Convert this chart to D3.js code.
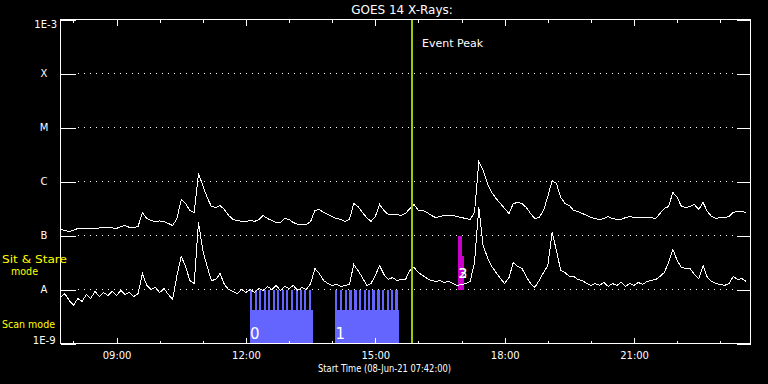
<!DOCTYPE html>
<html>
<head>
<meta charset="utf-8">
<script src="https://cdn.jsdelivr.net/npm/d3@7"></script>
<style>
  body { margin: 0; background: #000; }
  svg { display: block; font-family: "DejaVu Sans", sans-serif; }
</style>
</head>
<body>
<div class="chart"></div>
<script>
// GOES 14 X-ray flux, 08-Jun-21, one sample every 6 minutes from 07:42
const day = "2021-06-08";
const startTime = "07:42";
const endTime = "23:42";
const stepMinutes = 6;

// 1-8 A channel, units of 1e-9 W/m^2
const fluxLong = [
  129,124,119,124,135,135,132,135,135,138,
  141,141,138,135,147,153,141,141,147,267,
  206,190,182,186,182,167,153,206,464,391,
  290,267,1410,843,506,344,330,359,303,235,
  198,190,182,182,190,182,198,235,206,190,
  174,174,206,198,174,160,160,160,182,290,
  303,267,245,225,206,198,182,198,391,344,
  267,215,182,225,375,290,245,245,245,235,
  256,316,375,290,290,267,235,215,225,235,
  235,235,225,215,206,198,267,2350,1600,918,
  626,484,391,316,256,391,408,391,330,256,
  206,215,290,528,1044,918,506,391,359,290,
  278,256,235,215,206,198,206,225,206,198,
  198,215,225,215,215,215,215,215,206,256,
  316,344,626,506,344,330,344,375,303,408,
  278,225,206,215,215,225,267,278,278,267
];

// 0.5-4 A channel, units of 1e-9 W/m^2
const fluxShort = [
  7.1,8.4,6.3,5.1,6.8,6.0,8.1,6.8,9.2,7.4,
  8.8,7.7,9.2,7.7,9.6,8.1,8.8,7.4,8.4,19.8,
  11.9,10.0,10.9,8.8,10.4,8.1,6.5,18.2,40.8,26.7,
  14.7,12.9,174,52.8,26.7,14.7,15.3,19.8,12.4,10.0,
  9.2,8.4,10.0,8.8,10.0,8.8,10.4,9.6,11.4,10.0,
  11.9,9.6,11.4,10.4,11.9,9.6,10.9,10.0,12.9,24.5,
  19.8,14.7,12.9,11.9,12.4,11.4,11.9,12.4,29.0,22.5,
  16.7,11.9,12.9,18.2,27.8,19.0,15.3,16.7,14.7,15.3,
  15.3,22.5,25.6,20.6,18.2,16.0,14.7,14.1,14.7,13.5,
  14.1,12.9,11.9,12.4,12.9,14.1,31.6,330,65.3,39.1,
  26.7,20.6,16.0,12.9,16.7,31.6,26.7,24.5,17.4,12.9,
  10.9,14.7,20.6,27.8,114,52.8,22.5,20.6,17.4,17.4,
  15.3,14.7,12.9,11.9,12.9,11.9,13.5,11.4,12.9,11.9,
  13.5,11.4,12.9,11.9,13.5,12.4,14.1,14.7,15.3,17.4,
  20.6,31.6,55.1,34.4,25.6,24.5,24.5,19.0,16.0,27.8,
  16.7,14.1,12.9,12.4,11.9,12.9,17.4,15.3,16.0,14.1
];

const levelTicks = [1e-9, 1e-8, 1e-7, 1e-6, 1e-5, 1e-4, 1e-3];
const levelLabels = ["1E-9", "A", "B", "C", "M", "X", "1E-3"];

const eventPeak = "15:51";

// scan mode blocks and their sub-scans
const scanGroups = [["12:05", "13:33"], ["14:04", "15:33"]];
const scanLabels = ["0", "1"];
const scanTeeth = [
  ["12:05","12:12","12:18","12:25","12:31","12:37","12:43","12:50","12:56","13:02","13:09","13:15","13:21","13:28"],
  ["14:04","14:11","14:18","14:24","14:31","14:37","14:44","14:50","14:56","15:03","15:09","15:16","15:22","15:28"]
];
const toothMinutes = 3;

// sit & stare blocks
const stareBars = [["16:55", "17:00"], ["16:55", "17:04"]];
const stareTops = [1e-7, 4.1e-8];
const stareLabels = ["2", "3"];

const W = 768, H = 384;
const parse = d3.utcParse("%Y-%m-%d %H:%M");
const t = s => parse(day + " " + s);

const t0 = t(startTime);
const times = fluxLong.map((d, i) => d3.utcMinute.offset(t0, i * stepMinutes));

const x = d3.scaleUtc().domain([t0, t(endTime)]).range([60.5, 750.5]);
const y = d3.scaleLog().domain([1e-9, 1e-3]).range([343.5, 19.5]);

const svg = d3.select(".chart").append("svg")
  .attr("width", W)
  .attr("height", H)
  .attr("shape-rendering", "crispEdges");

svg.append("rect").attr("width", W).attr("height", H).attr("fill", "#000");

svg.append("defs").append("clipPath").attr("id", "plot")
  .append("rect")
  .attr("x", x.range()[0]).attr("y", y.range()[1])
  .attr("width", x.range()[1] - x.range()[0])
  .attr("height", y.range()[0] - y.range()[1]);

// dotted level lines
svg.append("g").selectAll("line")
  .data(levelTicks.slice(1, -1))
  .join("line")
  .attr("x1", 78).attr("x2", 736)
  .attr("y1", d => y(d)).attr("y2", d => y(d))
  .attr("stroke", "#fff")
  .attr("stroke-dasharray", "1,5");

// scan mode bars
const scanTop = 1e-8, scanBase = 4.1e-9;
scanGroups.forEach((g, gi) => {
  svg.append("rect")
    .attr("x", x(t(g[0])))
    .attr("width", x(t(g[1])) - x(t(g[0])))
    .attr("y", y(scanBase))
    .attr("height", y(1e-9) - y(scanBase))
    .attr("fill", "#6464ff");
  svg.append("g").selectAll("rect")
    .data(scanTeeth[gi])
    .join("rect")
    .attr("x", d => x(t(d)))
    .attr("width", d => x(d3.utcMinute.offset(t(d), toothMinutes)) - x(t(d)))
    .attr("y", y(scanTop))
    .attr("height", y(scanBase) - y(scanTop))
    .attr("fill", "#6464ff");
});

// sit & stare bars
svg.append("g").selectAll("rect")
  .data(stareBars)
  .join("rect")
  .attr("x", d => x(t(d[0])))
  .attr("width", d => x(t(d[1])) - x(t(d[0])))
  .attr("y", (d, i) => y(stareTops[i]))
  .attr("height", (d, i) => y(1e-8) - y(stareTops[i]))
  .attr("fill", "#cc00cc");

// flux curves
const line = d3.line()
  .x((d, i) => x(times[i]))
  .y(d => y(d * 1e-9));

[fluxLong, fluxShort].forEach(series => {
  svg.append("path")
    .datum(series)
    .attr("clip-path", "url(#plot)")
    .attr("fill", "none")
    .attr("stroke", "#fff")
    .attr("stroke-width", 1)
    .attr("d", line);
});

// block numbers
svg.append("g").selectAll("text")
  .data(scanGroups)
  .join("text")
  .attr("x", d => x(t(d[0])) + 0.5)
  .attr("y", 338.5)
  .attr("font-size", 15)
  .attr("fill", "#fff")
  .text((d, i) => scanLabels[i]);

svg.append("g").selectAll("text")
  .data(stareBars)
  .join("text")
  .attr("x", d => x(t(d[0])) + 0.5)
  .attr("y", 277.5)
  .attr("font-size", 14)
  .attr("fill", "#fff")
  .text((d, i) => stareLabels[i]);

// event peak line
const xe = x(t(eventPeak));
svg.append("line")
  .attr("x1", xe).attr("x2", xe)
  .attr("y1", y.range()[1]).attr("y2", y.range()[0])
  .attr("stroke", "#99cc00")
  .attr("stroke-width", 2);

svg.append("text")
  .attr("x", xe + 10)
  .attr("y", 46.5)
  .attr("font-size", 11)
  .attr("fill", "#fff")
  .text("Event Peak");

// time axes
function styleAxis(g) {
  g.select(".domain").remove();
  g.attr("font-family", null).attr("font-size", 10);
  g.selectAll("line").attr("stroke", "#fff");
  g.selectAll("text").attr("fill", "#fff");
}

svg.append("g").attr("transform", `translate(0,${y.range()[0]})`)
  .call(d3.axisBottom(x).ticks(d3.utcHour.every(1)).tickSize(-3).tickFormat(""))
  .call(styleAxis);
svg.append("g").attr("transform", `translate(0,${y.range()[0]})`)
  .call(d3.axisBottom(x).ticks(d3.utcHour.every(3)).tickSize(-6).tickPadding(8)
    .tickFormat(d3.utcFormat("%H:%M")))
  .call(styleAxis);
svg.append("g").attr("transform", `translate(0,${y.range()[1]})`)
  .call(d3.axisTop(x).ticks(d3.utcHour.every(1)).tickSize(-3).tickFormat(""))
  .call(styleAxis);
svg.append("g").attr("transform", `translate(0,${y.range()[1]})`)
  .call(d3.axisTop(x).ticks(d3.utcHour.every(3)).tickSize(-6).tickFormat(""))
  .call(styleAxis);

// level axes
const yLeft = svg.append("g").attr("transform", `translate(${x.range()[0]},0)`)
  .call(d3.axisLeft(y).tickValues(levelTicks).tickSize(-15)
    .tickFormat((d, i) => levelLabels[i]))
  .call(styleAxis);

yLeft.selectAll("text").each(function(d, i) {
  const s = d3.select(this);
  if (levelLabels[i].length === 1) {
    s.attr("text-anchor", "middle").attr("x", -16.5);
  } else if (i === levelTicks.length - 1) {
    s.attr("x", -3.5).attr("dy", null).attr("y", 7.5);
  } else {
    s.attr("x", -5).attr("dy", null).attr("y", -0.5);
  }
});

svg.append("g").attr("transform", `translate(${x.range()[1]},0)`)
  .call(d3.axisRight(y).tickValues(levelTicks).tickSize(-14).tickFormat(""))
  .call(styleAxis);

// frame
svg.append("rect")
  .attr("x", x.range()[0]).attr("y", y.range()[1])
  .attr("width", x.range()[1] - x.range()[0])
  .attr("height", y.range()[0] - y.range()[1])
  .attr("fill", "none")
  .attr("stroke", "#fff");

// titles
svg.append("text")
  .attr("x", 402).attr("y", 14)
  .attr("text-anchor", "middle")
  .attr("font-size", 12)
  .attr("fill", "#fff")
  .text("GOES 14 X-Rays:");

svg.append("text")
  .attr("x", 384.5).attr("y", 372)
  .attr("text-anchor", "middle")
  .attr("font-size", 10)
  .attr("textLength", 133)
  .attr("lengthAdjust", "spacingAndGlyphs")
  .attr("fill", "#fff")
  .text("Start Time (08-Jun-21 07:42:00)");

// mode labels
const modeText = [
  ["Sit & Stare", 2, 263, 65],
  ["mode", 11, 275, 27],
  ["Scan mode", 2, 327.5, 53]
];
svg.append("g").selectAll("text")
  .data(modeText)
  .join("text")
  .attr("x", d => d[1])
  .attr("y", d => d[2])
  .attr("font-size", 11)
  .attr("textLength", d => d[3])
  .attr("lengthAdjust", "spacingAndGlyphs")
  .attr("fill", "#ffff00")
  .text(d => d[0]);
</script>
</body>
</html>
